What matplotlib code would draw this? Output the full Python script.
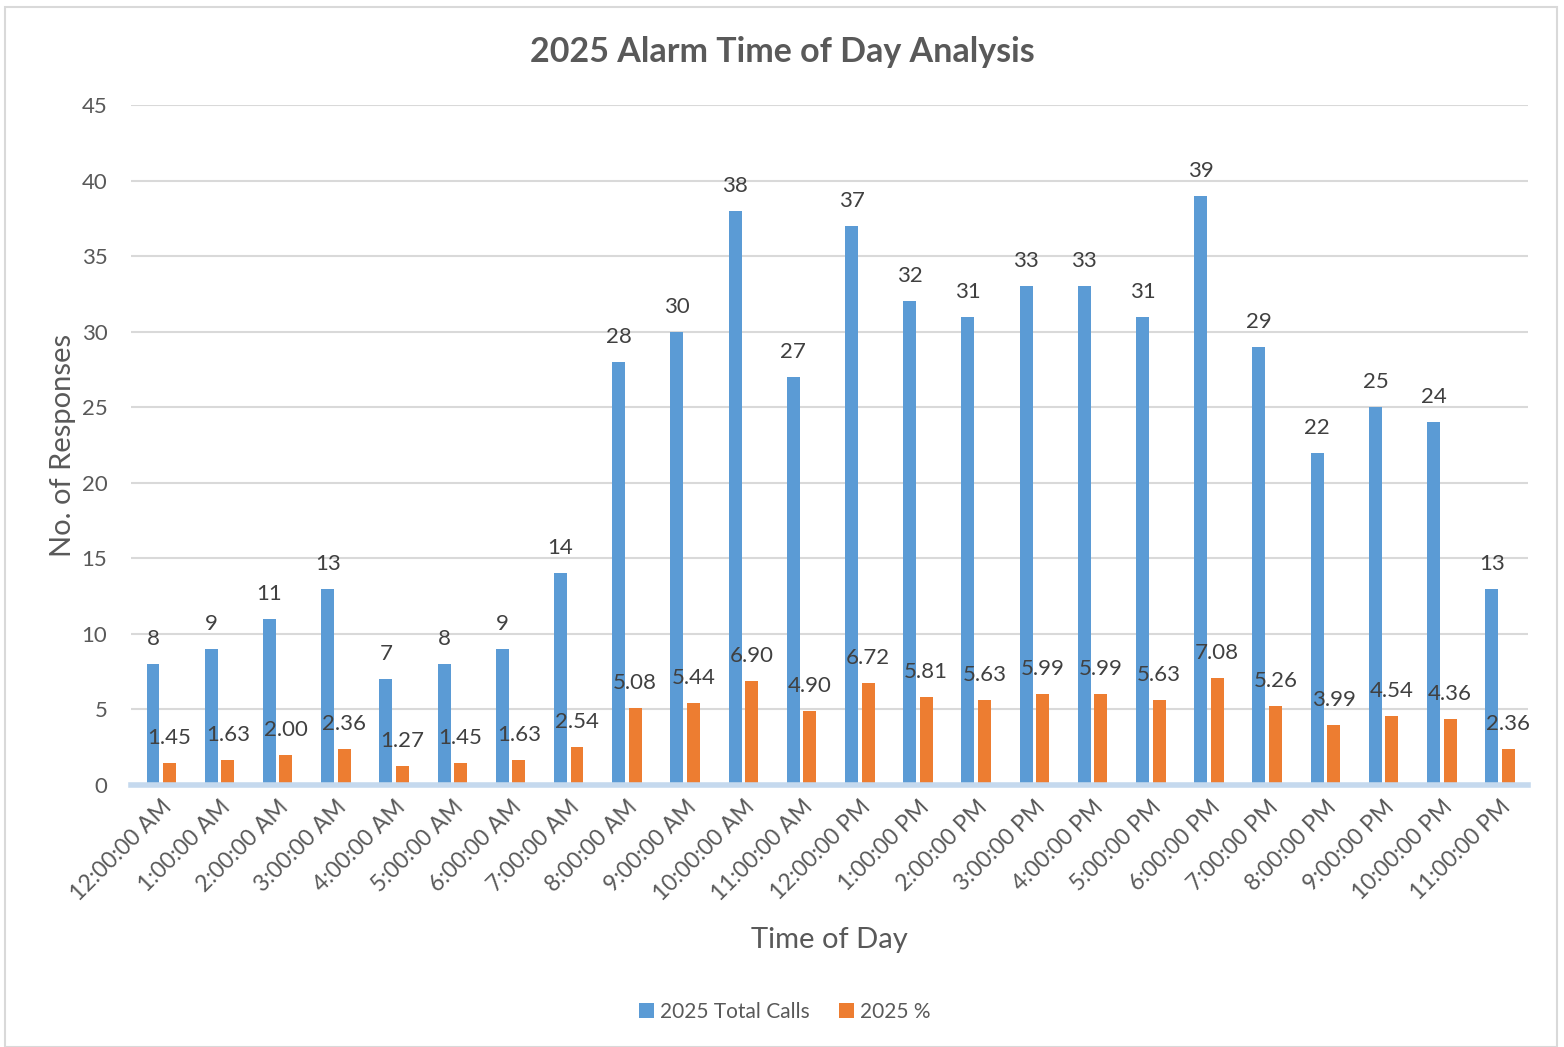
import matplotlib
matplotlib.use("Agg")
import matplotlib.pyplot as plt
from matplotlib.patches import Rectangle
import numpy as np

plt.rcParams['font.family'] = ['Lato', 'DejaVu Sans']

categories = ["12:00:00 AM", "1:00:00 AM", "2:00:00 AM", "3:00:00 AM", "4:00:00 AM",
              "5:00:00 AM", "6:00:00 AM", "7:00:00 AM", "8:00:00 AM", "9:00:00 AM",
              "10:00:00 AM", "11:00:00 AM", "12:00:00 PM", "1:00:00 PM", "2:00:00 PM",
              "3:00:00 PM", "4:00:00 PM", "5:00:00 PM", "6:00:00 PM", "7:00:00 PM",
              "8:00:00 PM", "9:00:00 PM", "10:00:00 PM", "11:00:00 PM"]
total_calls = [8, 9, 11, 13, 7, 8, 9, 14, 28, 30, 38, 27, 37, 32, 31, 33, 33, 31, 39, 29, 22, 25, 24, 13]
pct = [1.45, 1.63, 2.00, 2.36, 1.27, 1.45, 1.63, 2.54, 5.08, 5.44, 6.90, 4.90, 6.72, 5.81,
       5.63, 5.99, 5.99, 5.63, 7.08, 5.26, 3.99, 4.54, 4.36, 2.36]
y_ticks = [0, 5, 10, 15, 20, 25, 30, 35, 40, 45]

BLUE = "#5b9bd5"
ORANGE = "#ed7d31"
TXT = "#595959"

fig = plt.figure(figsize=(15.64, 10.47), dpi=100)
ax = fig.add_axes([131/1564, 1-785/1047, (1528-131)/1564, (785-105)/1047])

x = np.arange(len(categories))
w = 0.223
off = 0.142
b1 = ax.bar(x - off, total_calls, w, color=BLUE, label="2025 Total Calls", zorder=3)
b2 = ax.bar(x + off, pct, w, color=ORANGE, label="2025 %", zorder=3)

for xi, v in zip(x - off, total_calls):
    ax.annotate(f"{v:d}", (xi, v), xytext=(0, 18), textcoords="offset points",
                ha="center", va="center", fontsize=16, color="#404040")
for xi, v in zip(x + off, pct):
    ax.annotate(f"{v:.2f}", (xi, v), xytext=(0, 18), textcoords="offset points",
                ha="center", va="center", fontsize=16, color="#404040")

ax.set_xlim(-0.52, 23.48)
ax.set_ylim(0, 45)
ax.set_yticks(y_ticks)
ax.yaxis.grid(True, color="#d9d9d9", linewidth=1.5, zorder=0)
ax.set_axisbelow(True)
for s in ["top", "right", "left"]:
    ax.spines[s].set_visible(False)
ax.spines["bottom"].set_color("#c5d9ee")
ax.spines["bottom"].set_linewidth(4)
ax.spines["bottom"].set_zorder(4)
ax.tick_params(axis="y", length=0, colors=TXT, labelsize=16, pad=17)
ax.set_xticks(x)
ax.set_xticklabels(categories, rotation=45, ha="right", va="top", rotation_mode="anchor")
ax.tick_params(axis="x", length=0, colors=TXT, labelsize=16.5, pad=8)

ax.set_ylabel("No. of Responses", fontsize=21, color=TXT, labelpad=4)
ax.set_xlabel("Time of Day", fontsize=21, color=TXT, labelpad=16)
fig.text(782/1564, 1-52/1047, "2025 Alarm Time of Day Analysis", fontsize=24.5,
         fontweight="bold", color=TXT, ha="center", va="center")

leg = fig.legend(handles=[b1, b2], loc="center", bbox_to_anchor=(785/1564, 1-1012/1047),
                 ncol=2, frameon=False, fontsize=15, handlelength=0.7, handleheight=0.7,
                 handletextpad=0.3, columnspacing=1.4)
for t in leg.get_texts():
    t.set_color(TXT)

fig.patches.append(Rectangle((5/1564, 0), 1552/1564, 1-7/1047, transform=fig.transFigure,
                             fill=False, edgecolor="#d9d9d9", linewidth=1.5))

fig.savefig("out.png", dpi=100, facecolor="white")
